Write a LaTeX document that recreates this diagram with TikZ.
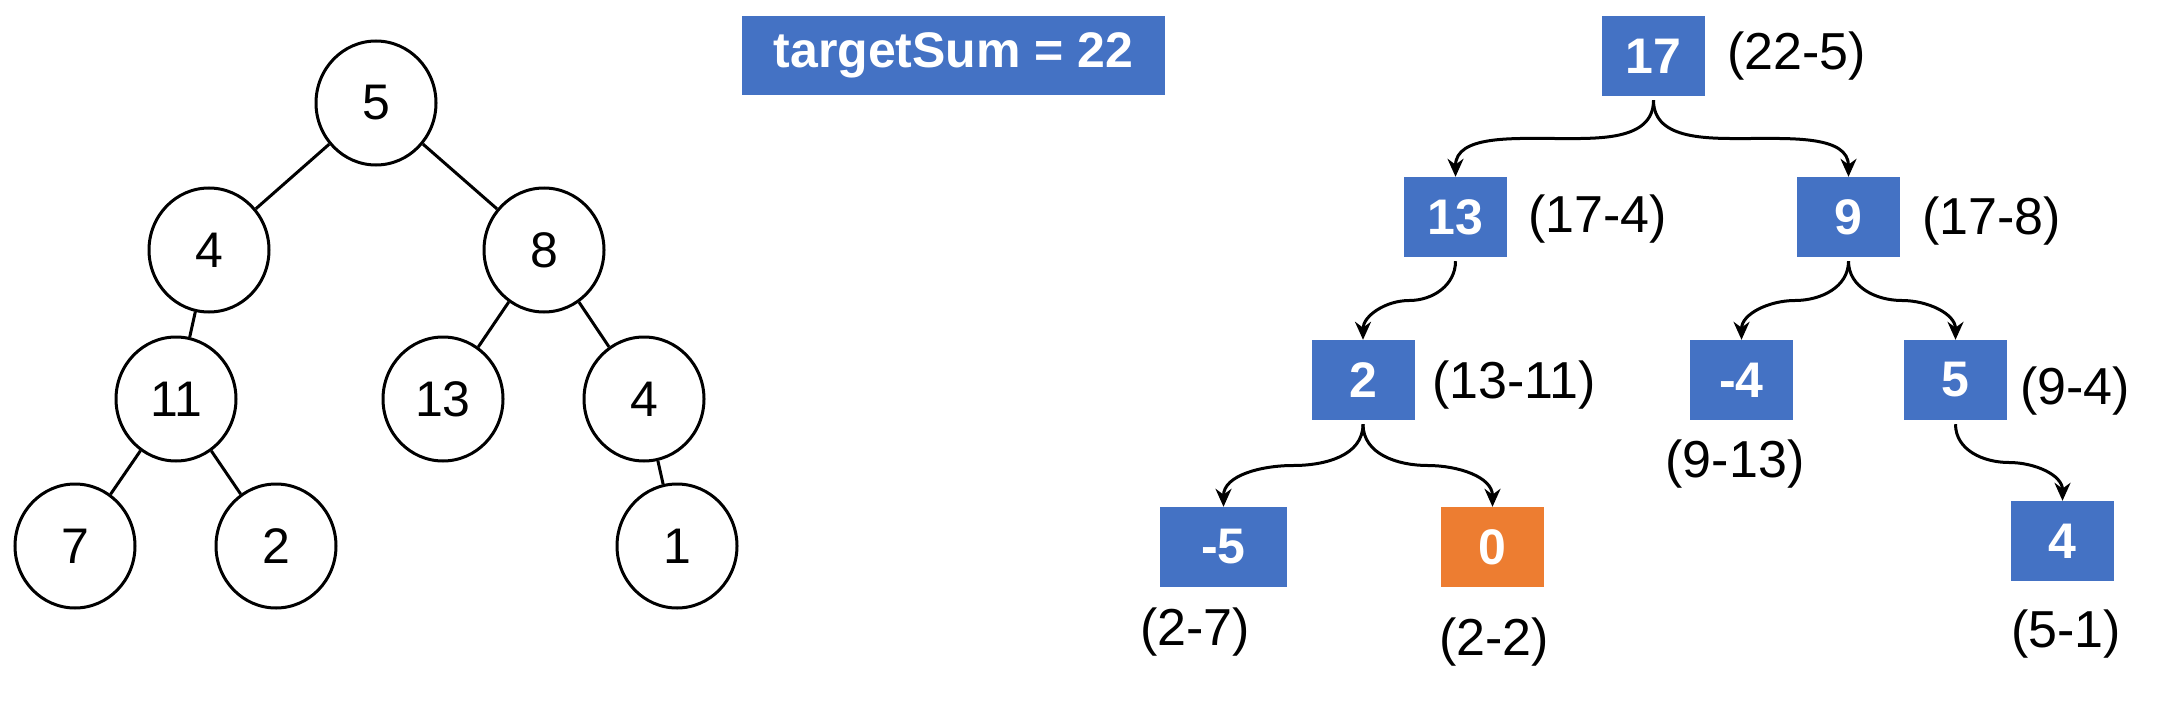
\documentclass[tikz,border=0pt]{standalone}
\usepackage{fontspec}
\setmainfont{Liberation Sans}
\usetikzlibrary{shapes.geometric,arrows.meta,calc}
\definecolor{nodeblue}{HTML}{4472C4}
\definecolor{nodeorange}{HTML}{ED7D31}
\newcommand{\brarrow}[3]{%
  \draw[arr] ([yshift=-4pt]#1.south) to[out=-90,in=#3]
    ($([yshift=-4pt]#1.south)!0.5!(#2.north)$) to[out=#3+180,in=90] (#2.north);}
\begin{document}
\begin{tikzpicture}[x=1pt,y=-1pt,
  tnode/.style={draw, line width=3pt, ellipse, minimum width=120pt, minimum height=124pt, inner sep=0pt, font=\fontsize{50}{50}\selectfont},
  bbox/.style={fill=nodeblue, text=white, minimum width=103pt, minimum height=80pt, inner sep=0pt, font=\fontsize{50}{50}\selectfont\bfseries},
  obox/.style={bbox, fill=nodeorange},
  lbl/.style={inner sep=0pt, font=\fontsize{52}{52}\selectfont},
  edge/.style={line width=3pt},
  arr/.style={line width=3pt, -{Stealth[length=18pt,width=16pt]}}]
\useasboundingbox (0,0) rectangle (2168,706);
% left tree
\node[tnode] (t5) at (376,103) {5};
\node[tnode] (t4) at (209,250) {4};
\node[tnode] (t8) at (544,250) {8};
\node[tnode] (t11) at (176,399) {11};
\node[tnode] (t13) at (443,399) {13};
\node[tnode] (t4b) at (644,399) {4};
\node[tnode] (t7) at (75,546) {7};
\node[tnode] (t2) at (276,546) {2};
\node[tnode] (t1) at (677,546) {1};
\draw[edge] (t5) -- (t4);
\draw[edge] (t5) -- (t8);
\draw[edge] (t4) -- (t11);
\draw[edge] (t8) -- (t13);
\draw[edge] (t8) -- (t4b);
\draw[edge] (t11) -- (t7);
\draw[edge] (t11) -- (t2);
\draw[edge] (t4b) -- (t1);
% target box
\node[bbox, minimum width=423pt, minimum height=79pt] (target) at (953.5,55.5) {targetSum = 22};
% right tree
\node[bbox] (r17) at (1653.5,56) {17};
\node[bbox] (r13) at (1455.5,217) {13};
\node[bbox] (r9) at (1848.5,217) {9};
\node[bbox] (r2) at (1363,380) {2};
\node[bbox] (rm4) at (1741.5,380) {-4};
\node[bbox] (r5) at (1955.5,380) {5};
\node[bbox, minimum width=127pt] (rm5) at (1223.5,547) {-5};
\node[obox] (r0) at (1492.5,547) {0};
\node[bbox] (r4) at (2062.5,541) {4};
% labels
\node[lbl, anchor=west] (l17) at (1727,56) {(22-5)};
\node[lbl, anchor=west] (l13) at (1528,219) {(17-4)};
\node[lbl, anchor=west] (l9) at (1922,221) {(17-8)};
\node[lbl, anchor=west] (l2) at (1432,385) {(13-11)};
\node[lbl, anchor=west] (l5) at (2020,391) {(9-4)};
\node[lbl] (lm4) at (1735,464) {(9-13)};
\node[lbl] (lm5) at (1195,632) {(2-7)};
\node[lbl] (l0) at (1494,642) {(2-2)};
\node[lbl] (l4) at (2066,634) {(5-1)};
% arrows
\brarrow{r17}{r13}{0}
\brarrow{r17}{r9}{180}
\brarrow{r13}{r2}{0}
\brarrow{r9}{rm4}{0}
\brarrow{r9}{r5}{180}
\brarrow{r2}{rm5}{0}
\brarrow{r2}{r0}{180}
\brarrow{r5}{r4}{180}
\end{tikzpicture}
\end{document}
